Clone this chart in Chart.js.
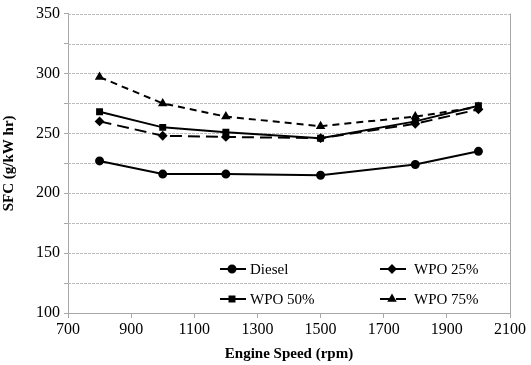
<!DOCTYPE html>
<html>
<head>
<meta charset="utf-8">
<script src="https://cdn.jsdelivr.net/npm/chart.js@4"></script>
<style>
  html, body { margin: 0; padding: 0; background: #fff; }
  #wrap { width: 531px; height: 365px; }
</style>
</head>
<body>
<div id="wrap"><canvas id="sfcChart"></canvas></div>
<script>
const speeds = [800, 1000, 1200, 1500, 1800, 2000];
const diesel = [227, 216, 216, 215, 224, 235];
const wpo25 = [260, 248, 247, 246, 258, 270];
const wpo50 = [268, 255, 251, 246, 260, 273];
const wpo75 = [297, 275, 264, 256, 264, 272];

const serif = "'Liberation Serif', 'Times New Roman', serif";

function toPoints(values) {
  return values.map((v, i) => ({ x: speeds[i], y: v }));
}

function series(label, values, style, dash) {
  return {
    label: label,
    data: toPoints(values),
    borderColor: '#000',
    backgroundColor: '#000',
    borderWidth: 2,
    borderDash: dash,
    pointStyle: style,
    pointRadius: 3.5,
    tension: 0,
  };
}

// horizontal grid lines from the y scale ticks, under the data
const gridLines = {
  id: 'gridLines',
  beforeDatasetsDraw(chart) {
    const ctx = chart.ctx;
    const a = chart.chartArea;
    const y = chart.scales.y;
    ctx.save();
    ctx.strokeStyle = '#bdbdbd';
    ctx.lineWidth = 1;
    ctx.setLineDash([3, 1]);
    y.ticks.forEach((t) => {
      if (t.value === y.min) return;
      const py = Math.round(y.getPixelForValue(t.value)) + 0.5;
      ctx.beginPath();
      ctx.moveTo(a.left, py);
      ctx.lineTo(a.right, py);
      ctx.stroke();
    });
    ctx.restore();
  }
};

// right frame line + legend drawn inside the chart area
const frameAndLegend = {
  id: 'frameAndLegend',
  afterDraw(chart) {
    const ctx = chart.ctx;
    const a = chart.chartArea;
    ctx.save();
    ctx.strokeStyle = '#a8a8a8';
    ctx.lineWidth = 1;
    ctx.beginPath();
    ctx.moveTo(a.right + 0.5, a.top);
    ctx.lineTo(a.right + 0.5, a.bottom);
    ctx.stroke();

    const slots = [
      { x: 220, y: 269, w: 30 }, { x: 380, y: 269, w: 34 },
      { x: 220, y: 299, w: 30 }, { x: 380, y: 299, w: 34 },
    ];
    ctx.font = '15px ' + serif;
    ctx.textBaseline = 'middle';
    ctx.fillStyle = '#000';
    chart.data.datasets.forEach((ds, i) => {
      const s = slots[i];
      ctx.strokeStyle = '#000';
      ctx.lineWidth = 2;
      ctx.setLineDash(ds.borderDash.length ? [10, 6] : []);
      ctx.beginPath();
      ctx.moveTo(s.x, s.y);
      ctx.lineTo(s.x + s.w - 4, s.y);
      ctx.stroke();
      ctx.setLineDash([]);
      Chart.helpers.drawPoint(ctx, {
        pointStyle: ds.pointStyle,
        radius: 3.5,
        borderWidth: 1,
        rotation: 0,
      }, s.x + 12, s.y);
      ctx.fill();
      ctx.fillText(ds.label, s.x + s.w, s.y + 1);
    });
    ctx.restore();
  }
};

new Chart('sfcChart', {
  type: 'line',
  data: {
    datasets: [
      series('Diesel', diesel, 'circle', []),
      series('WPO 25%', wpo25, 'rectRot', [12, 6]),
      series('WPO 50%', wpo50, 'rect', []),
      series('WPO 75%', wpo75, 'triangle', [7, 5]),
    ]
  },
  options: {
    responsive: true,
    maintainAspectRatio: false,
    animation: false,
    layout: { padding: { top: 13, right: 21, left: 0, bottom: 0 } },
    plugins: { legend: { display: false }, tooltip: { enabled: false } },
    scales: {
      x: {
        type: 'linear',
        min: 700,
        max: 2100,
        ticks: {
          stepSize: 200,
          color: '#000',
          font: { family: serif, size: 16 },
          padding: 2,
          maxRotation: 0,
          callback: (v) => String(v),
        },
        grid: { drawOnChartArea: false, color: '#a8a8a8', tickLength: 5 },
        border: { color: '#a8a8a8' },
        title: { display: true, text: 'Engine Speed (rpm)', color: '#000', font: { family: serif, size: 15, weight: 'bold' }, padding: { top: 0, bottom: 2 } },
        afterFit(scale) { scale.height = 52; },
      },
      y: {
        min: 100,
        max: 350,
        ticks: {
          stepSize: 25,
          color: '#000',
          font: { family: serif, size: 16 },
          padding: 4,
          autoSkip: false,
          callback: (v) => (v % 50 === 0 ? String(v) : ' '),
        },
        grid: { drawOnChartArea: false, color: '#a8a8a8', tickLength: 4 },
        border: { color: '#a8a8a8' },
        title: { display: true, text: 'SFC (g/kW hr)', color: '#000', font: { family: serif, size: 15, weight: 'bold' }, padding: { top: 0, bottom: 2 } },
        afterFit(scale) { scale.width = 68; },
      }
    }
  },
  plugins: [gridLines, frameAndLegend]
});
</script>
</body>
</html>
